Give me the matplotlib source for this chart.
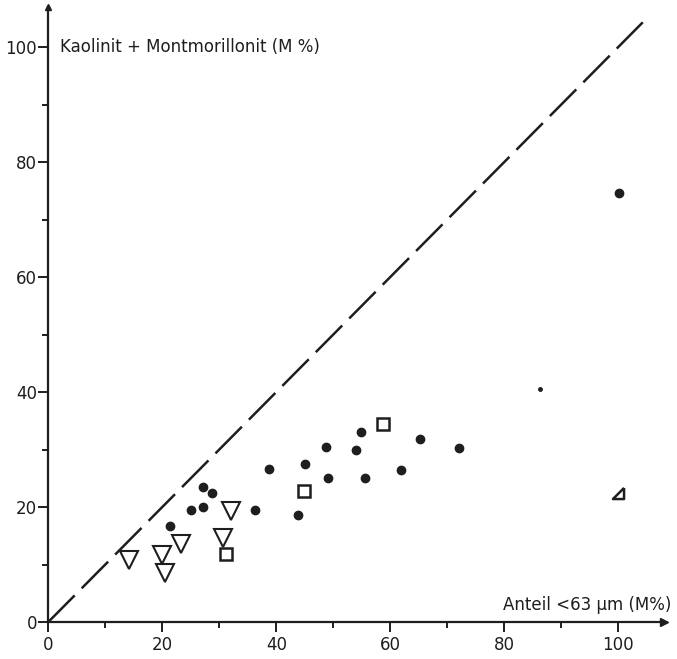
import numpy as np
import matplotlib
matplotlib.use("Agg")
import matplotlib.pyplot as plt

plt.rcParams['font.family'] = ['DejaVu Sans']

# gefuellte Kreise
kreis_x = [21.4, 25.0, 27.1, 27.1, 28.7, 36.3, 38.7, 43.9, 45.0, 49.1, 48.8,
           54.0, 54.9, 55.6, 61.9, 65.2, 72.1, 100.1]
kreis_y = [16.7, 19.4, 20.0, 23.5, 22.5, 19.5, 26.7, 18.7, 27.5, 25.0, 30.4,
           30.0, 33.0, 25.1, 26.4, 31.9, 30.2, 74.7]

# offene Quadrate
quad_x = [31.2, 44.9, 58.7]
quad_y = [11.8, 22.8, 34.4]

# offene Dreiecke (Spitze unten)
drei_x = [14.2, 19.9, 20.4, 23.3, 30.6, 32.1]
drei_y = [10.8, 11.7, 8.5, 13.5, 14.7, 19.3]

# Einzelwerte
punkt_x, punkt_y = [86.3], [40.5]
ecke_x, ecke_y = [100.0], [22.4]

linie = [0, 104.3]

xticks = [0, 20, 40, 60, 80, 100]
yticks = [0, 20, 40, 60, 80, 100]

fig = plt.figure(figsize=(6.77, 6.59), dpi=100)
ax = fig.add_axes([0.0713, 0.0561, 0.9093, 0.9336])
ax.set_xlim(0, 108)
ax.set_ylim(0, 107)

ink = '#1e1e1e'

ax.plot(linie, linie, color=ink, lw=1.8, dashes=(15, 4), solid_capstyle='butt')

ax.plot(kreis_x, kreis_y, 'o', ms=6, color=ink, mec=ink)
ax.plot(punkt_x, punkt_y, 'o', ms=2.5, color=ink)
ax.plot(quad_x, quad_y, 's', ms=8.5, mfc='white', mec=ink, mew=1.8)
ax.plot(drei_x, drei_y, 'v', ms=12.5, mfc='none', mec=ink, mew=1.5)
ecke = [(1, 1), (-1, -1), (1, -1), (1, 1)]
ax.plot(ecke_x, ecke_y, marker=ecke, ms=8, mfc='none', mec=ink, mew=1.8, ls='none')

for s in ['top', 'right']:
    ax.spines[s].set_visible(False)
for s in ['left', 'bottom']:
    ax.spines[s].set_linewidth(1.6)
    ax.spines[s].set_color(ink)

ax.plot(1, 0, '>', ms=6, color=ink, transform=ax.get_yaxis_transform(), clip_on=False)
ax.plot(0, 1, '^', ms=5, color=ink, transform=ax.get_xaxis_transform(), clip_on=False)

ax.set_xticks(xticks)
ax.set_yticks(yticks)
ax.set_xticks(np.arange(10, 101, 20), minor=True)
ax.set_yticks(np.arange(10, 101, 20), minor=True)
ax.tick_params(which='major', length=7, width=1.4, color=ink, labelsize=12, labelcolor=ink)
ax.tick_params(axis='y', which='major', pad=1)
ax.tick_params(axis='x', which='major', pad=3)
ax.tick_params(which='minor', length=4, width=1.4, color=ink)

ax.text(2, 100, 'Kaolinit + Montmorillonit (M %)', fontsize=12, va='center', ha='left', color=ink)
ax.text(109.4, 3, 'Anteil <63 μm (M%)', fontsize=12, va='center', ha='right', color=ink, clip_on=False)

fig.savefig('out.png', dpi=100, facecolor='white')
